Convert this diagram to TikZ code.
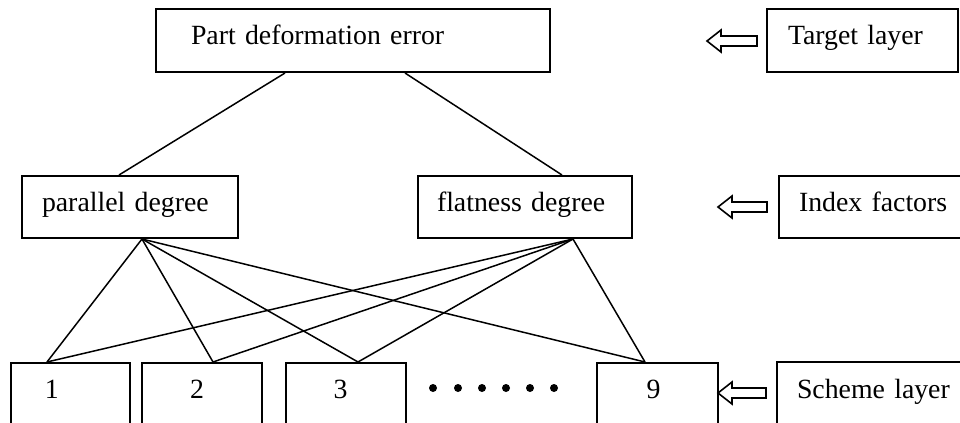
\documentclass[tikz,border=0pt]{standalone}
\usepackage{fontspec}
\setmainfont{Liberation Serif}
\usetikzlibrary{calc}
\newcommand\blockarrowleft[3]{%
  \draw[hollow] (#1,#2) -- ++(14,-11) -- ++(0,6) -- (#3,#2-5) -- (#3,#2+5) -- (#1+14,#2+5) -- ++(0,6) -- cycle;}
\begin{document}
\begin{tikzpicture}[x=0.5pt,y=-0.5pt,
  box/.style={draw, line width=1pt, rectangle, align=left, text height=0.7em, text depth=0.25em, inner ysep=0pt, font=\fontsize{13.9pt}{16pt}\selectfont},
  link/.style={line width=0.75pt},
  hollow/.style={draw, line width=0.8pt, fill=white, line join=miter}]
\useasboundingbox (0,0) rectangle (960,423);
\clip (0,0) rectangle (960,423);
\fill[white] (0,0) rectangle (960,423);

% top layer
\node[box, minimum height=31.5pt, inner xsep=17.5pt, text width=162pt] (top) at (353,40.5) {Part deformation error};
\node[box, minimum height=31.5pt, inner xsep=10.5pt, text width=74.5pt] (target) at (862.5,40.5) {Target layer};

% index layer
\node[box, minimum height=31pt, inner xsep=10pt, text width=88pt] (par) at (130,207) {parallel degree};
\node[box, minimum height=31pt, inner xsep=9.5pt, text width=88pt] (flat) at (525,207) {flatness degree};
\node[box, minimum height=31pt, inner xsep=10pt, text width=75pt] (index) at (874,207) {Index factors};

% scheme layer
\node[box, minimum height=31pt, inner xsep=17pt, text width=25.5pt] (b1) at (70.5,394) {1};
\node[box, minimum height=31pt, inner xsep=24pt, text width=12pt] (b2) at (202,394) {2};
\node[box, minimum height=31pt, inner xsep=23.75pt, text width=12.5pt] (b3) at (346,394) {3};
\node[box, minimum height=31pt, inner xsep=24.75pt, text width=11pt] (b9) at (657.5,394) {9};
\node[box, minimum height=31.5pt, inner xsep=10pt, text width=77.5pt] (scheme) at (874.5,393.5) {Scheme layer};

% dots
\foreach \x in {433,458,482,506,530,554} \fill (\x,388) circle (2pt);

% connection points
\coordinate (pp) at ([xshift=6pt]par.south);
\coordinate (fp) at ([xshift=24pt]flat.south);
\coordinate (t1) at ([xshift=-11.75pt]b1.north);
\coordinate (t2) at ([xshift=5.5pt]b2.north);
\coordinate (t3) at ([xshift=6pt]b3.north);
\coordinate (t9) at ([xshift=-6.25pt]b9.north);

\draw[link] ([xshift=-34pt]top.south) -- ([xshift=-5.5pt]par.north);
\draw[link] ([xshift=26pt]top.south) -- ([xshift=18.5pt]flat.north);
\foreach \t in {t1,t2,t3,t9} {
  \draw[link] (pp) -- (\t);
  \draw[link] (fp) -- (\t);
}

% hollow arrows
\blockarrowleft{707}{41}{757}
\blockarrowleft{718}{207}{767}
\blockarrowleft{718}{393}{766}
\end{tikzpicture}
\end{document}
